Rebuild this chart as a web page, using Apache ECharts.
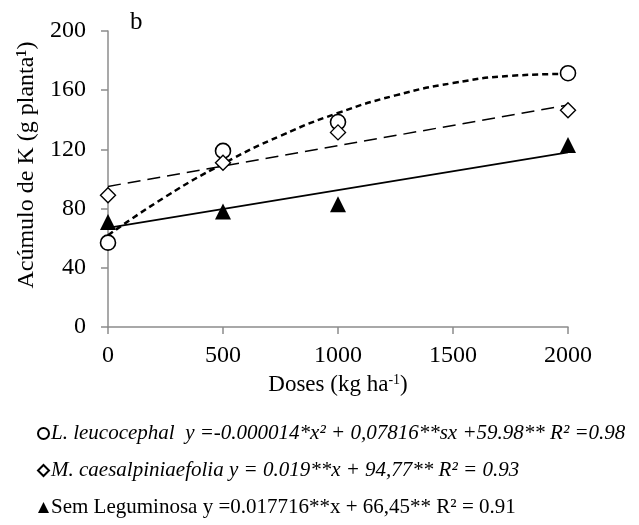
<!DOCTYPE html>
<html><head><meta charset="utf-8">
<script src="https://cdn.jsdelivr.net/npm/echarts@6/dist/echarts.min.js"></script>
<style>html,body{margin:0;padding:0;background:#fff}#c{width:639px;height:525px}</style>
</head><body><div id="c"></div>
<script>
const doses = [0, 500, 1000, 2000];
const leucocephala = [57, 119, 138.5, 171.5];
const caesalpiniaefolia = [89, 111, 131.5, 146.5];
const semLeguminosa = [71, 78, 83, 123];
// trend lines
const trendX = [0, 250, 500, 750, 1000, 1250, 1500, 1750, 2000];
const trendLeuco = [62, 88, 110.3, 129.2, 144.6, 156.5, 164.8, 169.7, 171];
const trendLineX = [0, 2000];
const trendCaes = [95, 150];
const trendSem = [67, 118];
const yTicks = [0, 40, 80, 120, 160, 200];
const xTicks = [0, 500, 1000, 1500, 2000];

const pairs = (xs, ys) => xs.map((x, i) => [x, ys[i]]);
const ff = '"Liberation Serif", "Times New Roman", serif';
const chart = echarts.init(document.getElementById('c'));
const axisGray = '#8c8c8c';
chart.setOption({
  animation: false,
  textStyle: {fontFamily: ff, color: '#000'},
  grid: {left: 108, right: 71, top: 31, bottom: 198},
  xAxis: {
    type: 'value', min: xTicks[0], max: xTicks[xTicks.length-1], interval: 500,
    splitLine: {show: false},
    axisLine: {lineStyle: {color: axisGray, width: 1.5}},
    axisTick: {show: true, length: 7, lineStyle: {color: axisGray, width: 1.5}},
    axisLabel: {fontSize: 24, color: '#000', fontFamily: ff, margin: 17, formatter: v => String(v)},
    name: 'Doses (kg ha{s|-1})', nameLocation: 'middle', nameGap: 46,
    nameTextStyle: {fontSize: 23, color: '#000', fontFamily: ff,
      rich: {s: {fontSize: 14, fontFamily: ff, color: '#000', padding: [0, 0, 10, 0]}}}
  },
  yAxis: {
    type: 'value', min: yTicks[0], max: yTicks[yTicks.length-1], interval: 40,
    splitLine: {show: false},
    axisLine: {show: true, lineStyle: {color: axisGray, width: 1.5}},
    axisTick: {show: true, length: 7, lineStyle: {color: axisGray, width: 1.5}},
    axisLabel: {fontSize: 24, color: '#000', fontFamily: ff, margin: 22}
  },
  legend: {
    orient: 'vertical', left: 32, top: 418, itemGap: 16, itemWidth: 11, itemHeight: 11,
    data: ['leuco', 'caes', 'sem'],
    formatter: function (n) {
      if (n === 'leuco') return '{i|L. leucocephal  y =-0.000014*x² + 0,07816**sx +59.98** R² =0.98}';
      if (n === 'caes') return '{i|M. caesalpiniaefolia y = 0.019**x + 94,77** R² = 0.93}';
      return '{n|Sem Leguminosa y =0.017716**x + 66,45** R² = 0.91}';
    },
    textStyle: {
      fontFamily: ff, fontSize: 21, color: '#000', padding: [0,0,0,-3],
      rich: {
        i: {fontFamily: ff, fontSize: 21, fontStyle: 'italic', color: '#000', lineHeight: 23},
        n: {fontFamily: ff, fontSize: 21, color: '#000', lineHeight: 23}
      }
    }
  },
  graphic: [
    {type: 'text', left: 130, top: 10, style: {text: 'b', font: '25px ' + ff, fill: '#000'}},
    {type: 'text', x: 27, y: 165, rotation: Math.PI / 2,
      style: {text: 'Acúmulo de K (g planta¹)', font: '24px ' + ff, fill: '#000', align: 'center', verticalAlign: 'middle'}}
  ],
  series: [
    {type: 'line', data: pairs(trendX, trendLeuco), smooth: true, symbol: 'none', silent: true,
      lineStyle: {color: '#000', width: 2.5, type: [6, 4]}, z: 2},
    {type: 'line', data: pairs(trendLineX, trendCaes), symbol: 'none', silent: true,
      lineStyle: {color: '#000', width: 1.5, type: [13, 7]}, z: 2},
    {type: 'line', data: pairs(trendLineX, trendSem), symbol: 'none', silent: true,
      lineStyle: {color: '#000', width: 1.6}, z: 2},
    {name: 'leuco', type: 'scatter', data: pairs(doses, leucocephala), symbol: 'circle', symbolSize: 15,
      itemStyle: {color: '#fff', borderColor: '#000', borderWidth: 1.6, opacity: 1}, z: 3},
    {name: 'caes', type: 'scatter', data: pairs(doses, caesalpiniaefolia), symbol: 'diamond', symbolSize: 15,
      itemStyle: {color: '#fff', borderColor: '#000', borderWidth: 1.4, opacity: 1}, z: 3},
    {name: 'sem', type: 'scatter', data: pairs(doses, semLeguminosa), symbol: 'triangle', symbolSize: 16,
      itemStyle: {color: '#000', opacity: 1}, z: 3}
  ]
});
</script></body></html>
